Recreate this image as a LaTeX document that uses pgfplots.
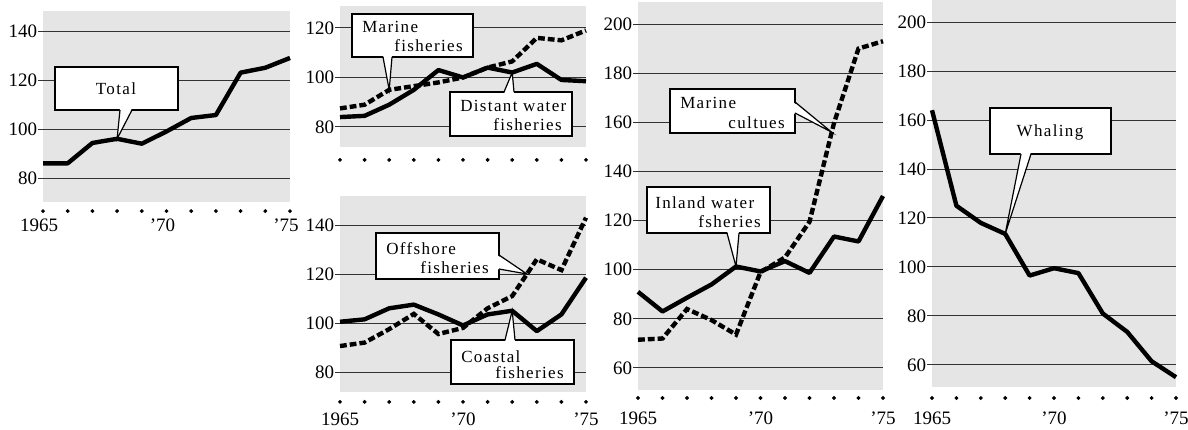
\documentclass[border=0pt]{standalone}
\usepackage{pgfplots}
\pgfplotsset{compat=1.18}
\usepackage{fontspec}
\setmainfont{Liberation Serif}
\newfontfamily\boxfamily[LetterSpace=8]{Liberation Serif}
\newcommand{\boxfnt}{\boxfamily\fontsize{8.5}{10}\selectfont}

\pgfplotsset{
  panel/.style={
    scale only axis,
    axis background/.style={fill=black!10},
    axis line style={draw=none},
    xmin=1965, xmax=1975,
    ymajorgrids, grid style={black!80, line width=0.5pt},
    ytick pos=left, tick align=outside, major tick length=2.5pt,
    ytick style={black!80, line width=0.5pt},
    xtick={1965,1970,1975}, xticklabels={1965,'70,'75},
    xtick style={draw=none},
    tick label style={font=\fontsize{9.5}{10}\selectfont},
    yticklabel style={inner xsep=0.3pt},
    /pgf/number format/assume math mode=true,
    clip=false,
  },
  solidline/.style={black, line width=2.2pt, line join=round},
  dashline/.style={black, line width=2.2pt, dash pattern=on 3.4pt off 1.5pt},
  dots/.style={only marks, mark=*, mark size=0.75pt, black},
}

\begin{document}
\begin{tikzpicture}
\useasboundingbox (0,0) rectangle (594pt,214.5pt);

% ---------- Panel 1: Total ----------
\begin{axis}[panel, at={(21.5pt,113.25pt)}, anchor=south west,
  width=123.5pt, height=95.55pt, ymin=70, ymax=148,
  ytick={80,100,120,140}, xticklabel style={yshift=-2pt, xshift=-2pt}]
\addplot[solidline] coordinates {(1965,86)(1966,86)(1967,94.3)(1968,96)(1969,94)(1970,99)(1971,104.5)(1972,105.7)(1973,123)(1974,125)(1975,129)};
\addplot[dots] coordinates {(1965,66.5)(1966,66.5)(1967,66.5)(1968,66.5)(1969,66.5)(1970,66.5)(1971,66.5)(1972,66.5)(1973,66.5)(1974,66.5)(1975,66.5)};
\coordinate (t1) at (axis cs:1968,96);
\end{axis}

% ---------- Panel 2: Marine / Distant water ----------
\begin{axis}[panel, at={(170pt,141.1pt)}, anchor=south west,
  width=123pt, height=70.55pt, ymin=72, ymax=129,
  ytick={80,100,120}, xticklabels={}]
\addplot[dashline] coordinates {(1965,87.5)(1966,89)(1967,95)(1968,96.5)(1969,98)(1970,100)(1971,104)(1972,106.5)(1973,116)(1974,115)(1975,119)};
\addplot[solidline] coordinates {(1965,84)(1966,84.5)(1967,89)(1968,95)(1969,103)(1970,100)(1971,104)(1972,102)(1973,105.5)(1974,99)(1975,98.5)};
\addplot[dots] coordinates {(1965,66.7)(1966,66.7)(1967,66.7)(1968,66.7)(1969,66.7)(1970,66.7)(1971,66.7)(1972,66.7)(1973,66.7)(1974,66.7)(1975,66.7)};
\coordinate (t2) at (axis cs:1967,95);
\coordinate (t3) at (axis cs:1972,102);
\end{axis}

% ---------- Panel 3: Offshore / Coastal ----------
\begin{axis}[panel, at={(170pt,18.7pt)}, anchor=south west,
  width=123pt, height=98pt, ymin=72, ymax=152,
  ytick={80,100,120,140}, xticklabel style={yshift=-4.5pt}]
\addplot[dashline] coordinates {(1965,90.6)(1966,92)(1967,97.5)(1968,103.7)(1969,95.5)(1970,98)(1971,106)(1972,111)(1973,126)(1974,121.6)(1975,143)};
\addplot[solidline] coordinates {(1965,100.5)(1966,101.5)(1967,106)(1968,107.5)(1969,103.5)(1970,99)(1971,103.5)(1972,105)(1973,96.7)(1974,103.5)(1975,118.5)};
\addplot[dots] coordinates {(1965,67.8)(1966,67.8)(1967,67.8)(1968,67.8)(1969,67.8)(1970,67.8)(1971,67.8)(1972,67.8)(1973,67.8)(1974,67.8)(1975,67.8)};
\coordinate (t4) at (axis cs:1972.6,120);
\coordinate (t5) at (axis cs:1972,105);
\end{axis}

% ---------- Panel 4: Marine cultures / Inland water ----------
\begin{axis}[panel, at={(319pt,19.45pt)}, anchor=south west,
  width=122.5pt, height=194.1pt, ymin=51, ymax=209,
  ytick={60,80,...,200}, xticklabel style={yshift=-5pt}]
\addplot[dashline] coordinates {(1965,71.5)(1966,72)(1967,84)(1968,79.5)(1969,73.6)(1970,99)(1971,105)(1972,119.5)(1973,159.7)(1974,190)(1975,193)};
\addplot[solidline] coordinates {(1965,91)(1966,83)(1967,88.6)(1968,94)(1969,101.3)(1970,99.3)(1971,103.5)(1972,98.7)(1973,113.5)(1974,111.5)(1975,130)};
\addplot[dots] coordinates {(1965,47.8)(1966,47.8)(1967,47.8)(1968,47.8)(1969,47.8)(1970,47.8)(1971,47.8)(1972,47.8)(1973,47.8)(1974,47.8)(1975,47.8)};
\coordinate (t6) at (axis cs:1972.9,156);
\coordinate (t7) at (axis cs:1969,101.3);
\end{axis}

% ---------- Panel 5: Whaling ----------
\begin{axis}[panel, at={(466pt,21pt)}, anchor=south west,
  width=122pt, height=193.5pt, ymin=51, ymax=209,
  ytick={60,80,...,200}, xticklabel style={yshift=-6.5pt}]
\addplot[solidline] coordinates {(1965,164)(1966,125)(1967,118)(1968,113.5)(1969,96.5)(1970,99.5)(1971,97.5)(1972,81)(1973,73.5)(1974,61.5)(1975,55)};
\addplot[dots] coordinates {(1965,46.5)(1966,46.5)(1967,46.5)(1968,46.5)(1969,46.5)(1970,46.5)(1971,46.5)(1972,46.5)(1973,46.5)(1974,46.5)(1975,46.5)};
\coordinate (t8) at (axis cs:1968,113.5);
\end{axis}

% ---------- Callouts (pixel coordinates, y downward) ----------
\begin{scope}[x=0.5pt, y=-0.5pt, yshift=214.5pt, line width=0.6pt]
% Total
\draw[fill=white] (55,67) rectangle (178,110);
\fill[white] (120,108) -- (t1) -- (132,108) -- cycle;
\draw (120,110) -- (t1) -- (132,110);
\node[font=\boxfnt] at (116,89) {Total};
% Marine fisheries
\draw[fill=white] (352,14) rectangle (473,57);
\fill[white] (383,55) -- (t2) -- (392,55) -- cycle;
\draw (383,57) -- (t2) -- (392,57);
\node[font=\boxfnt, anchor=west] at (355,27) {Marine};
\node[font=\boxfnt, anchor=east] at (470,46) {fisheries};
% Distant water fisheries
\draw[fill=white] (450,92) rectangle (572,136);
\fill[white] (504,94) -- (t3) -- (514,94) -- cycle;
\draw (504,92) -- (t3) -- (514,92);
\node[font=\boxfnt, anchor=west] at (453,106) {Distant water};
\node[font=\boxfnt, anchor=east] at (569,125) {fisheries};
% Offshore fisheries
\draw[fill=white] (376,233) rectangle (499,279);
\fill[white] (497,255) -- (t4) -- (497,269) -- cycle;
\draw (499,255) -- (t4) -- (499,269);
\node[font=\boxfnt, anchor=west] at (379,249) {Offshore};
\node[font=\boxfnt, anchor=east] at (496,268) {fisheries};
% Coastal fisheries
\draw[fill=white] (451,340) rectangle (574,384);
\fill[white] (505,342) -- (t5) -- (515,342) -- cycle;
\draw (505,340) -- (t5) -- (515,340);
\node[font=\boxfnt, anchor=west] at (454,357) {Coastal};
\node[font=\boxfnt, anchor=east] at (571,373) {fisheries};
% Marine cultues
\draw[fill=white] (670,89) rectangle (795,133);
\fill[white] (793,102) -- (t6) -- (793,113) -- cycle;
\draw (795,102) -- (t6) -- (795,113);
\node[font=\boxfnt, anchor=west] at (673,103) {Marine};
\node[font=\boxfnt, anchor=east] at (792,123) {cultues};
% Inland water fsheries
\draw[fill=white] (647,187) rectangle (770,233);
\fill[white] (727,231) -- (t7) -- (739,231) -- cycle;
\draw (727,233) -- (t7) -- (739,233);
\node[font=\boxfnt, anchor=west] at (648,203) {Inland water};
\node[font=\boxfnt, anchor=east] at (768,222) {fsheries};
% Whaling
\draw[fill=white] (990,108) rectangle (1111,154);
\fill[white] (1021,152) -- (t8) -- (1031,152) -- cycle;
\draw (1021,154) -- (t8) -- (1031,154);
\node[font=\boxfnt] at (1050,132) {Whaling};
\end{scope}
\end{tikzpicture}
\end{document}
